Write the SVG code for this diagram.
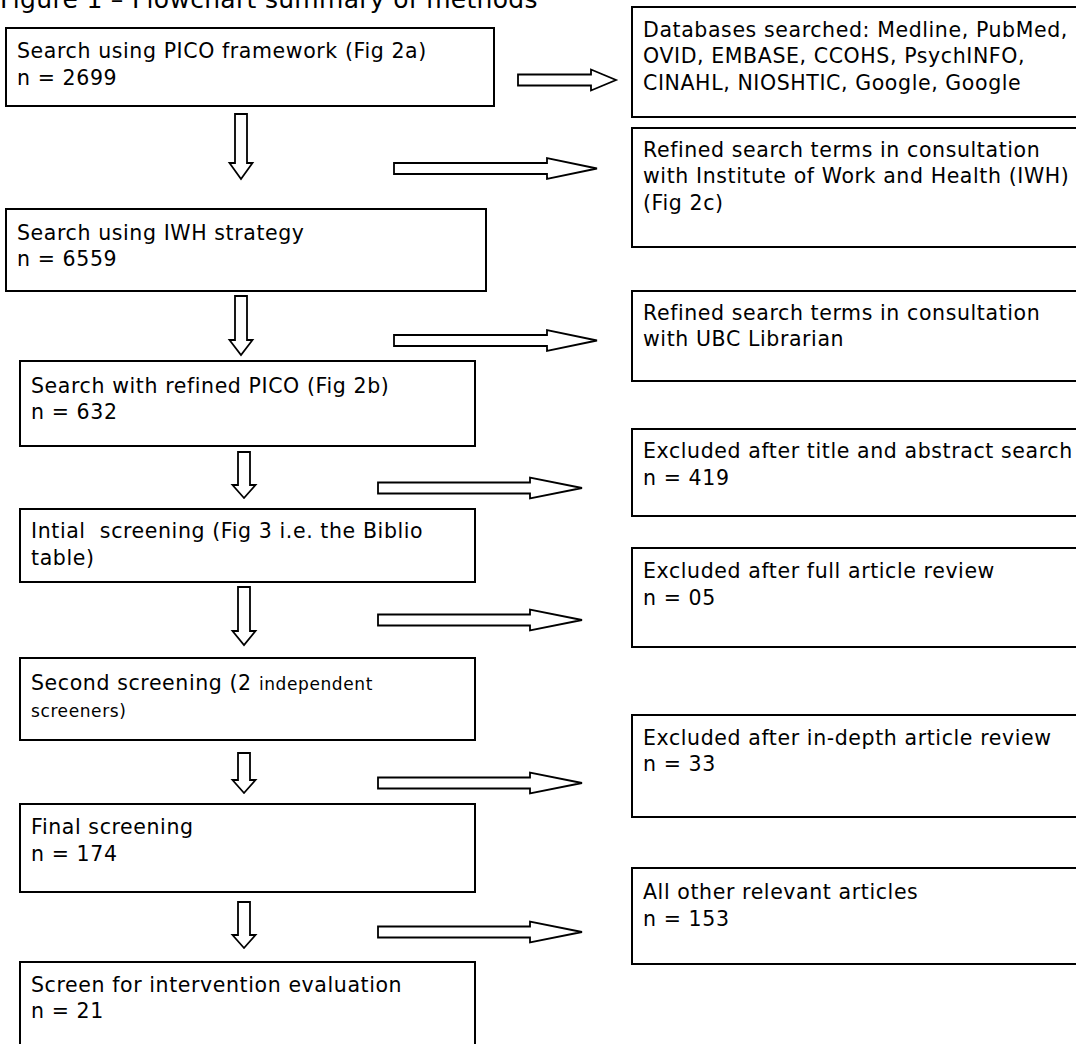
<svg xmlns="http://www.w3.org/2000/svg" width="1076" height="1044" viewBox="0 0 1076 1044">
<style>
  .box { fill: #ffffff; stroke: #000000; stroke-width: 2; }
  .arr { fill: #ffffff; stroke: #000000; stroke-width: 1.8; stroke-linejoin: miter; }
  text { font-family: "DejaVu Sans", "Liberation Sans", sans-serif; font-size: 20.5px; letter-spacing: 0.6px; fill: #000000; }
  .title { font-size: 25px; letter-spacing: 0.3px; }
  .small { font-size: 17px; }
</style>
<rect x="0" y="0" width="1076" height="1044" fill="#ffffff"/>
<text class="title" x="0" y="8">Figure 1 – Flowchart summary of methods</text>

<g id="connectors">
  <polygon class="arr" points="518,74.5 591,74.5 591,69.5 616,80 591,90.5 591,85.5 518,85.5"/>
  <polygon class="arr" points="394,163 547,163 547,158 597,168.5 547,179 547,174 394,174"/>
  <polygon class="arr" points="394,335 547,335 547,330 597,340.5 547,351 547,346 394,346"/>
  <polygon class="arr" points="378,482.5 530,482.5 530,477.5 582,488 530,498.5 530,493.5 378,493.5"/>
  <polygon class="arr" points="378,614.5 530,614.5 530,609.5 582,620 530,630.5 530,625.5 378,625.5"/>
  <polygon class="arr" points="378,777.5 530,777.5 530,772.5 582,783 530,793.5 530,788.5 378,788.5"/>
  <polygon class="arr" points="378,926.5 530,926.5 530,921.5 582,932 530,942.5 530,937.5 378,937.5"/>
  <polygon class="arr" points="235,114 247,114 247,163 252.5,163 241,179 229.5,163 235,163"/>
  <polygon class="arr" points="235,296 247,296 247,340 252.5,340 241,355 229.5,340 235,340"/>
  <polygon class="arr" points="238,452 250,452 250,485 255.5,485 244,498 232.5,485 238,485"/>
  <polygon class="arr" points="238,587 250,587 250,631 255.5,631 244,645 232.5,631 238,631"/>
  <polygon class="arr" points="238,753 250,753 250,780 255.5,780 244,793 232.5,780 238,780"/>
  <polygon class="arr" points="238,902 250,902 250,935 255.5,935 244,948 232.5,935 238,935"/>
</g>

<g id="n1">
  <rect class="box" x="6" y="28" width="488" height="78"/>
  <text x="17" y="58">Search using PICO framework (Fig 2a)</text>
  <text x="17" y="85">n = 2699</text>
</g>
<g id="n2">
  <rect class="box" x="6" y="209" width="480" height="82"/>
  <text x="17" y="240">Search using IWH strategy</text>
  <text x="17" y="266">n = 6559</text>
</g>
<g id="n3">
  <rect class="box" x="20" y="361" width="455" height="85"/>
  <text x="31" y="393">Search with refined PICO (Fig 2b)</text>
  <text x="31" y="419">n = 632</text>
</g>
<g id="n4">
  <rect class="box" x="20" y="509" width="455" height="73"/>
  <text x="31" y="538" xml:space="preserve">Intial  screening (Fig 3 i.e. the Biblio</text>
  <text x="31" y="565">table)</text>
</g>
<g id="n5">
  <rect class="box" x="20" y="658" width="455" height="82"/>
  <text x="31" y="690">Second screening (2 <tspan class="small">independent</tspan></text>
  <text class="small" x="31" y="717">screeners)</text>
</g>
<g id="n6">
  <rect class="box" x="20" y="804" width="455" height="88"/>
  <text x="31" y="834">Final screening</text>
  <text x="31" y="861">n = 174</text>
</g>
<g id="n7">
  <rect class="box" x="20" y="962" width="455" height="100"/>
  <text x="31" y="992">Screen for intervention evaluation</text>
  <text x="31" y="1018">n = 21</text>
</g>

<g id="r1">
  <rect class="box" x="632" y="7" width="460" height="110"/>
  <text x="643" y="37">Databases searched: Medline, PubMed,</text>
  <text x="643" y="63">OVID, EMBASE, CCOHS, PsychINFO,</text>
  <text x="643" y="90">CINAHL, NIOSHTIC, Google, Google</text>
</g>
<g id="r2">
  <rect class="box" x="632" y="128" width="460" height="119"/>
  <text x="643" y="157">Refined search terms in consultation</text>
  <text x="643" y="183">with Institute of Work and Health (IWH)</text>
  <text x="643" y="210">(Fig 2c)</text>
</g>
<g id="r3">
  <rect class="box" x="632" y="291" width="460" height="90"/>
  <text x="643" y="320">Refined search terms in consultation</text>
  <text x="643" y="346">with UBC Librarian</text>
</g>
<g id="r4">
  <rect class="box" x="632" y="429" width="460" height="87"/>
  <text x="643" y="458">Excluded after title and abstract search</text>
  <text x="643" y="485">n = 419</text>
</g>
<g id="r5">
  <rect class="box" x="632" y="548" width="460" height="99"/>
  <text x="643" y="578">Excluded after full article review</text>
  <text x="643" y="605">n = 05</text>
</g>
<g id="r6">
  <rect class="box" x="632" y="715" width="460" height="102"/>
  <text x="643" y="745">Excluded after in-depth article review</text>
  <text x="643" y="771">n = 33</text>
</g>
<g id="r7">
  <rect class="box" x="632" y="868" width="460" height="96"/>
  <text x="643" y="899">All other relevant articles</text>
  <text x="643" y="926">n = 153</text>
</g>
</svg>
